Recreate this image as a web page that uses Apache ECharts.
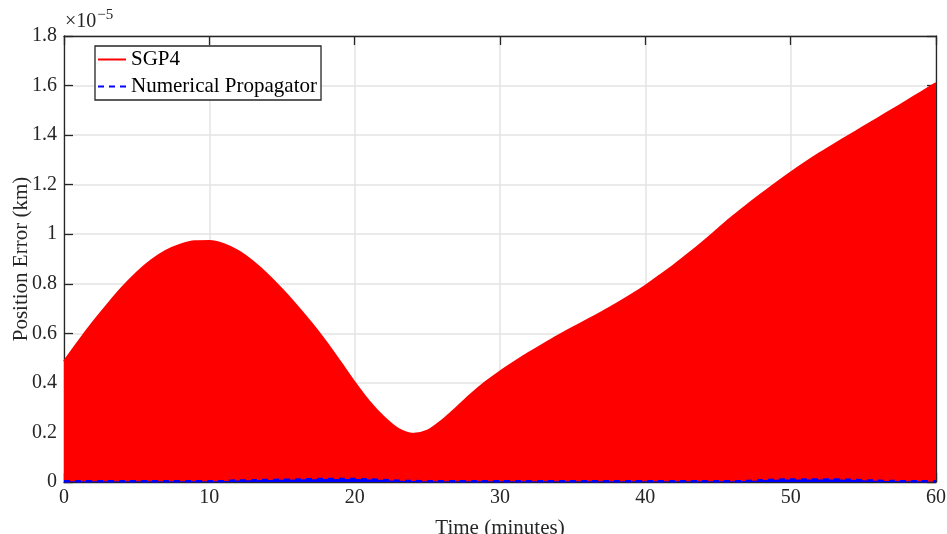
<!DOCTYPE html>
<html>
<head>
<meta charset="utf-8">
<script src="https://cdn.jsdelivr.net/npm/echarts@6/dist/echarts.min.js"></script>
<style>
  html, body { margin: 0; padding: 0; background: #fff; }
  #chart { width: 947px; height: 534px; }
</style>
</head>
<body>
<div id="chart"></div>
<script>
// time in minutes, errors in units of 1e-5 km
const minutes = [0,1,2,3,4,5,6,7,8,9,10,11,12,13,14,15,16,17,18,19,20,
  21,22,23,24,25,26,27,28,29,30,31,32,33,34,35,36,37,38,39,40,
  41,42,43,44,45,46,47,48,49,50,51,52,53,54,55,56,57,58,59,60];
const sgp4Err = [0.487,0.568,0.645,0.717,0.785,0.845,0.895,0.933,0.958,0.972,0.973,
  0.960,0.932,0.890,0.838,0.778,0.713,0.643,0.568,0.486,0.402,
  0.325,0.262,0.214,0.194,0.207,0.248,0.300,0.354,0.403,0.446,
  0.485,0.522,0.557,0.591,0.623,0.654,0.686,0.719,0.754,0.792,
  0.834,0.877,0.923,0.971,1.021,1.071,1.118,1.163,1.207,1.249,
  1.289,1.327,1.363,1.398,1.433,1.468,1.503,1.538,1.574,1.610];
const numErr = [0.003,0.003,0.003,0.003,0.003,0.003,0.003,0.003,0.003,0.003,0.003,
  0.004,0.006,0.007,0.008,0.009,0.010,0.011,0.012,0.012,0.012,
  0.010,0.008,0.005,0.004,0.003,0.003,0.003,0.003,0.003,0.003,
  0.003,0.003,0.003,0.003,0.003,0.003,0.003,0.003,0.003,0.003,
  0.003,0.003,0.003,0.003,0.003,0.003,0.004,0.007,0.009,0.010,
  0.010,0.010,0.010,0.009,0.007,0.005,0.004,0.003,0.003,0.003];
const yTicks = [0,0.2,0.4,0.6,0.8,1,1.2,1.4,1.6,1.8];

const font = "Liberation Serif";
const axisColor = "#262626";

const chart = echarts.init(document.getElementById("chart"));
const pairs = (ys) => minutes.map((t, i) => [t, ys[i]]);

// fresh objects per axis; onZero off so top/right axes stay on the box edges
function axisLine() {
  return { show: true, onZero: false, lineStyle: { color: axisColor, width: 1.3 } };
}
function axisTick() {
  return { show: true, inside: true, length: 9, lineStyle: { color: axisColor, width: 1.3 } };
}

chart.setOption({
  animation: false,
  textStyle: { fontFamily: font },
  grid: { left: 64, right: 11, top: 36, bottom: 52, outerBoundsMode: "none", containLabel: false },
  legend: {
    left: 95, top: 46, orient: "vertical",
    backgroundColor: "#fff",
    borderColor: axisColor, borderWidth: 1.3, borderRadius: 0,
    padding: [3, 4, 3, 2],
    itemWidth: 28, itemHeight: 14, itemGap: 6,
    itemStyle: { opacity: 0, borderWidth: 0 },
    textStyle: { fontFamily: font, fontSize: 21, color: "#000" },
    data: ["SGP4", "Numerical Propagator"]
  },
  graphic: [{
    type: "text", left: 65, top: 8,
    style: {
      text: "{a|×10}{b|−5}",
      rich: {
        a: { fontFamily: font, fontSize: 20, fill: axisColor },
        b: { fontFamily: font, fontSize: 15, fill: axisColor, verticalAlign: "top", padding: [0, 0, 12, 1] }
      }
    }
  }],
  xAxis: [{
    type: "value", min: 0, max: 60, interval: 10, position: "bottom",
    name: "Time (minutes)", nameLocation: "middle", nameGap: 36,
    nameTextStyle: { fontFamily: font, fontSize: 21, color: axisColor },
    axisLine: axisLine(), axisTick: axisTick(),
    axisLabel: { fontFamily: font, fontSize: 20, color: axisColor, margin: 6 },
    splitLine: { show: true, lineStyle: { color: "#e3e3e3", width: 1.5 } }
  }, {
    type: "value", min: 0, max: 60, interval: 10, position: "top",
    axisLine: axisLine(), axisTick: axisTick(),
    axisLabel: { show: false }, splitLine: { show: false }
  }],
  yAxis: [{
    type: "value", min: 0, max: 1.8, interval: 0.2, position: "left",
    name: "Position Error (km)", nameLocation: "middle", nameGap: 32, nameMoveOverlap: false,
    nameTextStyle: { fontFamily: font, fontSize: 21, color: axisColor },
    axisLine: axisLine(), axisTick: axisTick(),
    axisLabel: {
      fontFamily: font, fontSize: 20, color: axisColor, margin: 7,
      formatter: (v) => {
        const t = yTicks.find((k) => Math.abs(k - v) < 1e-6);
        return String(t !== undefined ? t : +v.toFixed(1));
      }
    },
    splitLine: { show: true, lineStyle: { color: "#e3e3e3", width: 1.5 } }
  }, {
    type: "value", min: 0, max: 1.8, interval: 0.2, position: "right",
    axisLine: axisLine(), axisTick: axisTick(),
    axisLabel: { show: false }, splitLine: { show: false }
  }],
  series: [{
    name: "SGP4", type: "line", symbol: "none", smooth: 0.3,
    data: pairs(sgp4Err),
    itemStyle: { color: "#ff0000" },
    lineStyle: { color: "#ff0000", width: 2, type: "solid" },
    areaStyle: { color: "#ff0000", opacity: 1 },
    z: 2
  }, {
    name: "Numerical Propagator", type: "line", symbol: "none", smooth: 0.3,
    data: pairs(numErr),
    itemStyle: { color: "#0000ff" },
    lineStyle: { color: "#0000ff", width: 2.5, type: [6, 5] },
    areaStyle: { color: "#0000ff", opacity: 1 },
    z: 3
  }]
});
</script>
</body>
</html>
